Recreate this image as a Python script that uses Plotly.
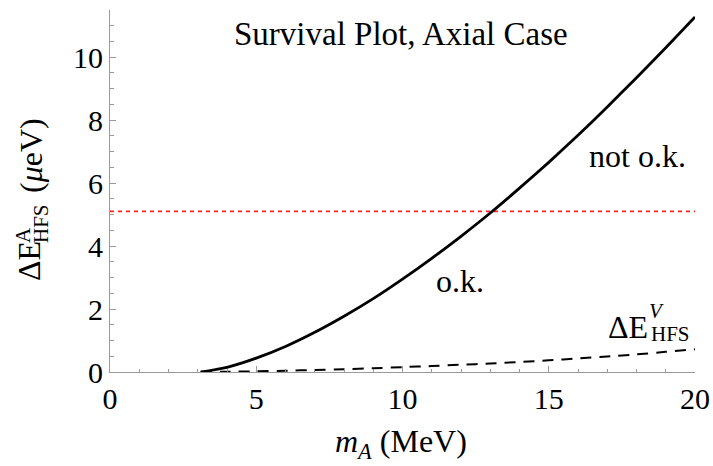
import plotly.graph_objects as go

# Mass of the axial boson (MeV)
m_A = [3.1, 4, 5, 6, 7, 8, 9, 10, 11, 12, 13, 14, 15, 16, 17, 18, 19, 20]
# Hyperfine shift, axial case (micro-eV)
dE_axial = [0, 0.15, 0.44, 0.81, 1.26, 1.77, 2.33, 2.95, 3.61, 4.31, 5.05,
            5.84, 6.66, 7.52, 8.42, 9.35, 10.3, 11.28]
# Hyperfine shift, vector case (micro-eV)
dE_vector = [0, 0.01, 0.02, 0.04, 0.065, 0.09, 0.12, 0.155, 0.19, 0.23, 0.27,
             0.32, 0.37, 0.43, 0.49, 0.56, 0.64, 0.72]
# Allowed upper bound on the shift (micro-eV)
bound = 5.1
x_range = [0, 20]
y_range = [0, 11.5]
x_ticks = [0, 5, 10, 15, 20]
y_ticks = [0, 2, 4, 6, 8, 10]

W, H = 713, 466
L, R, T, B = 110, 18, 10, 94
PW, PH = W - L - R, H - T - B
SERIF = "Liberation Serif"
AXCOL = "#9a9a9a"


def px(xp, yp):
    """Convert figure pixel coordinates to paper coordinates."""
    return (xp - L) / PW, (H - B - yp) / PH


fig = go.Figure()
fig.add_trace(go.Scatter(
    x=x_range, y=[bound, bound], mode="lines",
    line=dict(color="#ff2020", width=1.8, dash="4px,4px"),
    showlegend=False, hoverinfo="skip"))
fig.add_trace(go.Scatter(
    x=m_A, y=dE_vector, mode="lines",
    line=dict(color="black", width=2, dash="11px,8px", shape="spline", smoothing=0.6),
    showlegend=False))
fig.add_trace(go.Scatter(
    x=m_A, y=dE_axial, mode="lines",
    line=dict(color="black", width=2.8, shape="spline", smoothing=0.6),
    showlegend=False))

annots = []


def label(text, xp, yp, size=32, angle=0):
    ax, ay = px(xp, yp)
    annots.append(dict(text=text, x=ax, y=ay, xref="paper", yref="paper",
                       xanchor="center", yanchor="middle", showarrow=False,
                       textangle=angle,
                       font=dict(family=SERIF, size=size, color="black")))


label("Survival Plot, Axial Case", 401, 34, size=33)
label("not o.k.", 637, 156)
label("o.k.", 460, 281)
# vector-case curve label with stacked super/subscript
label("ΔE", 628, 327)
label("<i>V</i>", 656, 311, size=21)
label("HFS", 670, 334, size=21)
# y-axis title, rotated, with stacked super/subscript
label("ΔE", 29, 261, angle=-90)
label("A", 23, 235, size=21, angle=-90)
label("HFS", 41, 224, size=21, angle=-90)
label("(<i>μ</i>eV)", 31, 156, angle=-90)
# x-axis title
label("<i>m</i><sub><i>A</i></sub> (MeV)", 401, 443)

axis_common = dict(showline=True, linecolor=AXCOL, linewidth=1, showgrid=False,
                   zeroline=False, ticks="inside", tickcolor=AXCOL, tickwidth=1,
                   ticklen=6, automargin=False,
                   tickfont=dict(family=SERIF, size=30, color="black"))

fig.update_layout(
    width=W, height=H,
    margin=dict(l=L, r=R, t=T, b=B, pad=0),
    paper_bgcolor="white", plot_bgcolor="white",
    font=dict(family=SERIF),
    xaxis=dict(range=x_range, tickvals=x_ticks, ticktext=[str(v) for v in x_ticks],
               minor=dict(dtick=1, tick0=0, ticks="inside", ticklen=3.5,
                          tickcolor=AXCOL, showgrid=False),
               **axis_common),
    yaxis=dict(range=y_range, tickvals=y_ticks, ticktext=[str(v) for v in y_ticks],
               minor=dict(dtick=0.5, tick0=0, ticks="inside", ticklen=3.5,
                          tickcolor=AXCOL, showgrid=False),
               **axis_common),
    annotations=annots,
)

fig.write_html("out.html")
